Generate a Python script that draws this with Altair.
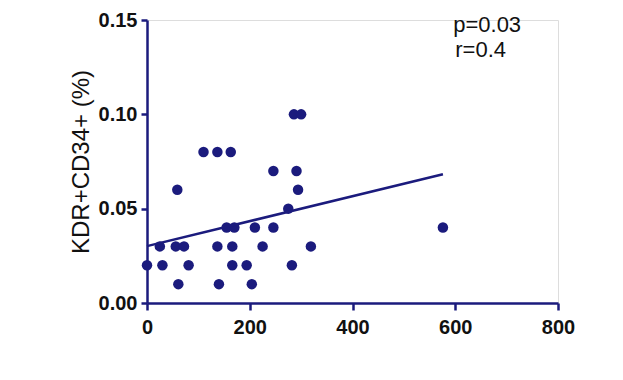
import altair as alt
import pandas as pd

# Scatter data
x_vals = [0, 25, 30, 59, 56, 72, 61, 81, 110, 137, 163, 137, 140, 155, 170, 166,
          166, 194, 204, 210, 225, 246, 246, 275, 282, 286, 300, 291, 294, 319, 576]
y_vals = [0.02, 0.03, 0.02, 0.06, 0.03, 0.03, 0.01, 0.02, 0.08, 0.08, 0.08, 0.03,
          0.01, 0.04, 0.04, 0.03, 0.02, 0.02, 0.01, 0.04, 0.03, 0.07, 0.04, 0.05,
          0.02, 0.10, 0.10, 0.07, 0.06, 0.03, 0.04]

x_ticks = [0, 200, 400, 600, 800]
y_ticks = [0.0, 0.05, 0.10, 0.15]

stat_labels = ["p=0.03", "r=0.4"]
stat_x = [596, 600]
stat_y = [0.1436, 0.1304]

NAVY = "#1b1b7d"
FONT = "Liberation Sans"

df = pd.DataFrame({"x": x_vals, "y": y_vals})
ann = pd.DataFrame({"label": stat_labels, "x": stat_x, "y": stat_y})

xs = alt.Scale(domain=[0, 800], nice=False, zero=False)
ys = alt.Scale(domain=[0, 0.15], nice=False, zero=False)

x_axis = alt.Axis(values=x_ticks, title=None, grid=False, format="d",
                  domainColor=NAVY, domainWidth=2.5, tickColor=NAVY, tickWidth=2.5,
                  tickSize=7, labelFont=FONT, labelFontSize=20, labelFontWeight="bold",
                  labelColor="#111111", labelPadding=7, labelFlush=False)
y_axis = alt.Axis(values=y_ticks, title="KDR+CD34+ (%)", grid=False, format=".2f",
                  domainColor=NAVY, domainWidth=2.5, tickColor=NAVY, tickWidth=2.5,
                  tickSize=6, labelFont=FONT, labelFontSize=20, labelFontWeight="bold",
                  labelColor="#111111", labelPadding=4, labelFlush=False, titleFont=FONT,
                  titleFontSize=24, titleFontWeight="normal", titleColor="#111111",
                  titlePadding=5)

points = alt.Chart(df).mark_circle(size=110, color=NAVY, opacity=1).encode(
    x=alt.X("x:Q", scale=xs, axis=x_axis),
    y=alt.Y("y:Q", scale=ys, axis=y_axis),
)

fit = alt.Chart(df).transform_regression("x", "y").mark_line(
    color=NAVY, strokeWidth=2.5
).encode(x=alt.X("x:Q", scale=xs), y=alt.Y("y:Q", scale=ys))

text = alt.Chart(ann).mark_text(align="left", baseline="alphabetic", font=FONT,
                                fontSize=22, color="#111111").encode(
    x=alt.X("x:Q", scale=xs), y=alt.Y("y:Q", scale=ys), text="label:N"
)

chart = (points + fit + text).properties(
    width=411, height=283,
    autosize=alt.AutoSizeParams(type="none"),
    padding={"left": 139, "top": 12, "right": 57, "bottom": 69},
).configure_view(stroke=None).configure(background="white")

chart.save("out.html", embed_options={"renderer": "svg", "actions": False})
